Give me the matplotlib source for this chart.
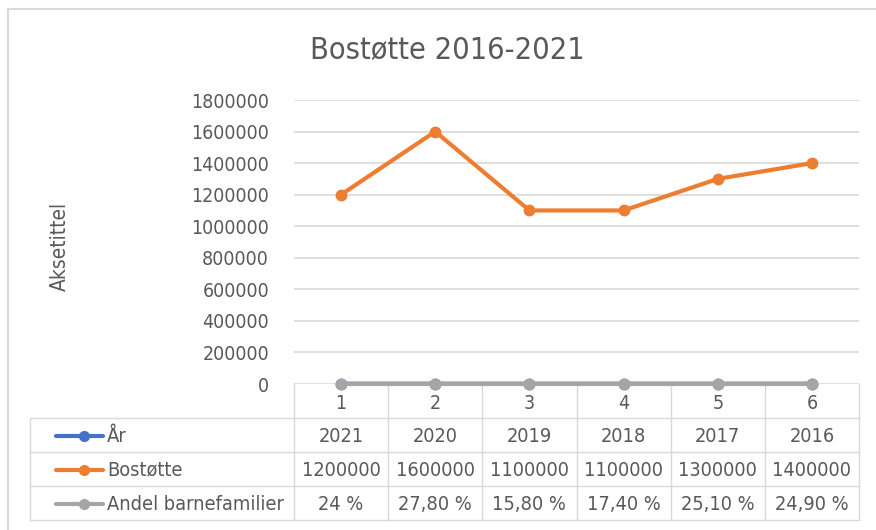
import matplotlib
matplotlib.use('Agg')
import matplotlib.pyplot as plt
import matplotlib.transforms as mtransforms
from matplotlib.ticker import FuncFormatter, MultipleLocator

plt.rcParams['font.family'] = ['DejaVu Sans']
plt.rcParams['font.stretch'] = 'condensed'

# Data (as shown in the chart's data table)
categories = [1, 2, 3, 4, 5, 6]
aar = [2021, 2020, 2019, 2018, 2017, 2016]
bostotte = [1200000, 1600000, 1100000, 1100000, 1300000, 1400000]
andel = [0.24, 0.278, 0.158, 0.174, 0.251, 0.249]
andel_labels = ['24 %', '27,80 %', '15,80 %', '17,40 %', '25,10 %', '24,90 %']

series_names = ['År', 'Bostøtte', 'Andel barnefamilier']
colors = ['#4472C4', '#ED7D31', '#A5A5A5']
text_col = '#595959'
grid_col = '#D9D9D9'

W, H = 876, 530
fig = plt.figure(figsize=(W / 100, H / 100), dpi=100)

# overlay in pixel coordinates for the border and the data table
ov = fig.add_axes([0, 0, 1, 1])
ov.set_xlim(0, W)
ov.set_ylim(H, 0)
ov.axis('off')

# plot area
x0, x1, ytop, ybot = 294, 859, 100, 384
ax = fig.add_axes([x0 / W, (H - ybot) / H, (x1 - x0) / W, (ybot - ytop) / H])
ax.set_facecolor('none')

for vals, c in zip([aar, bostotte, andel], colors):
    ax.plot(categories, vals, color=c, lw=3, marker='o', ms=7.5,
            solid_capstyle='round', zorder=3, clip_on=False)

ax.set_xlim(0.5, 6.5)
ax.set_ylim(0, 1800000)
ax.yaxis.set_major_locator(MultipleLocator(200000))
ax.yaxis.set_major_formatter(FuncFormatter(lambda v, p: f'{int(v)}'))
ax.grid(axis='y', color=grid_col, lw=1.2)
ax.set_axisbelow(True)
for s in ax.spines.values():
    s.set_visible(False)
ax.set_xticks(categories)
ax.set_xticklabels([str(c) for c in categories])
ax.tick_params(axis='both', length=0, labelsize=14, labelcolor=text_col)
ax.tick_params(axis='y', pad=18)
ax.tick_params(axis='x', pad=7)

fig.text(447 / W, (H - 50) / H, 'Bostøtte 2016-2021', fontsize=22,
         color=text_col, ha='center', va='center')
fig.text(60 / W, (H - 246) / H, 'Aksetittel', rotation=90, fontsize=15,
         color=text_col, ha='center', va='center')

# outer chart border (left and top visible)
ov.plot([8, 8, W], [H, 9, 9], color=grid_col, lw=1.5)

# data table
rows_y = [418, 452, 486, 520]
tbl_left = 30
for y in rows_y:
    ov.plot([tbl_left, x1], [y, y], color=grid_col, lw=1)
ov.plot([tbl_left, tbl_left], [rows_y[0], rows_y[-1]], color=grid_col, lw=1)
col_w = (x1 - x0) / len(categories)
for i in range(len(categories) + 1):
    xx = x0 + i * col_w
    ov.plot([xx, xx], [ybot, rows_y[-1]], color=grid_col, lw=1)

blend = mtransforms.blended_transform_factory(ax.transData, ov.transData)
row_texts = [[str(v) for v in aar], [str(v) for v in bostotte], andel_labels]
for r, (name, c, texts) in enumerate(zip(series_names, colors, row_texts)):
    yc = (rows_y[r] + rows_y[r + 1]) / 2 + 1
    ov.plot([56, 103], [yc, yc], color=c, lw=3, solid_capstyle='round')
    ov.plot([84], [yc], marker='o', color=c, ms=7)
    ov.text(107, yc, name, fontsize=14.3, color=text_col, va='center', ha='left')
    for cat, t in zip(categories, texts):
        ov.text(cat, yc, t, transform=blend, fontsize=14.3, color=text_col,
                ha='center', va='center')

fig.savefig('out.png', dpi=100)
